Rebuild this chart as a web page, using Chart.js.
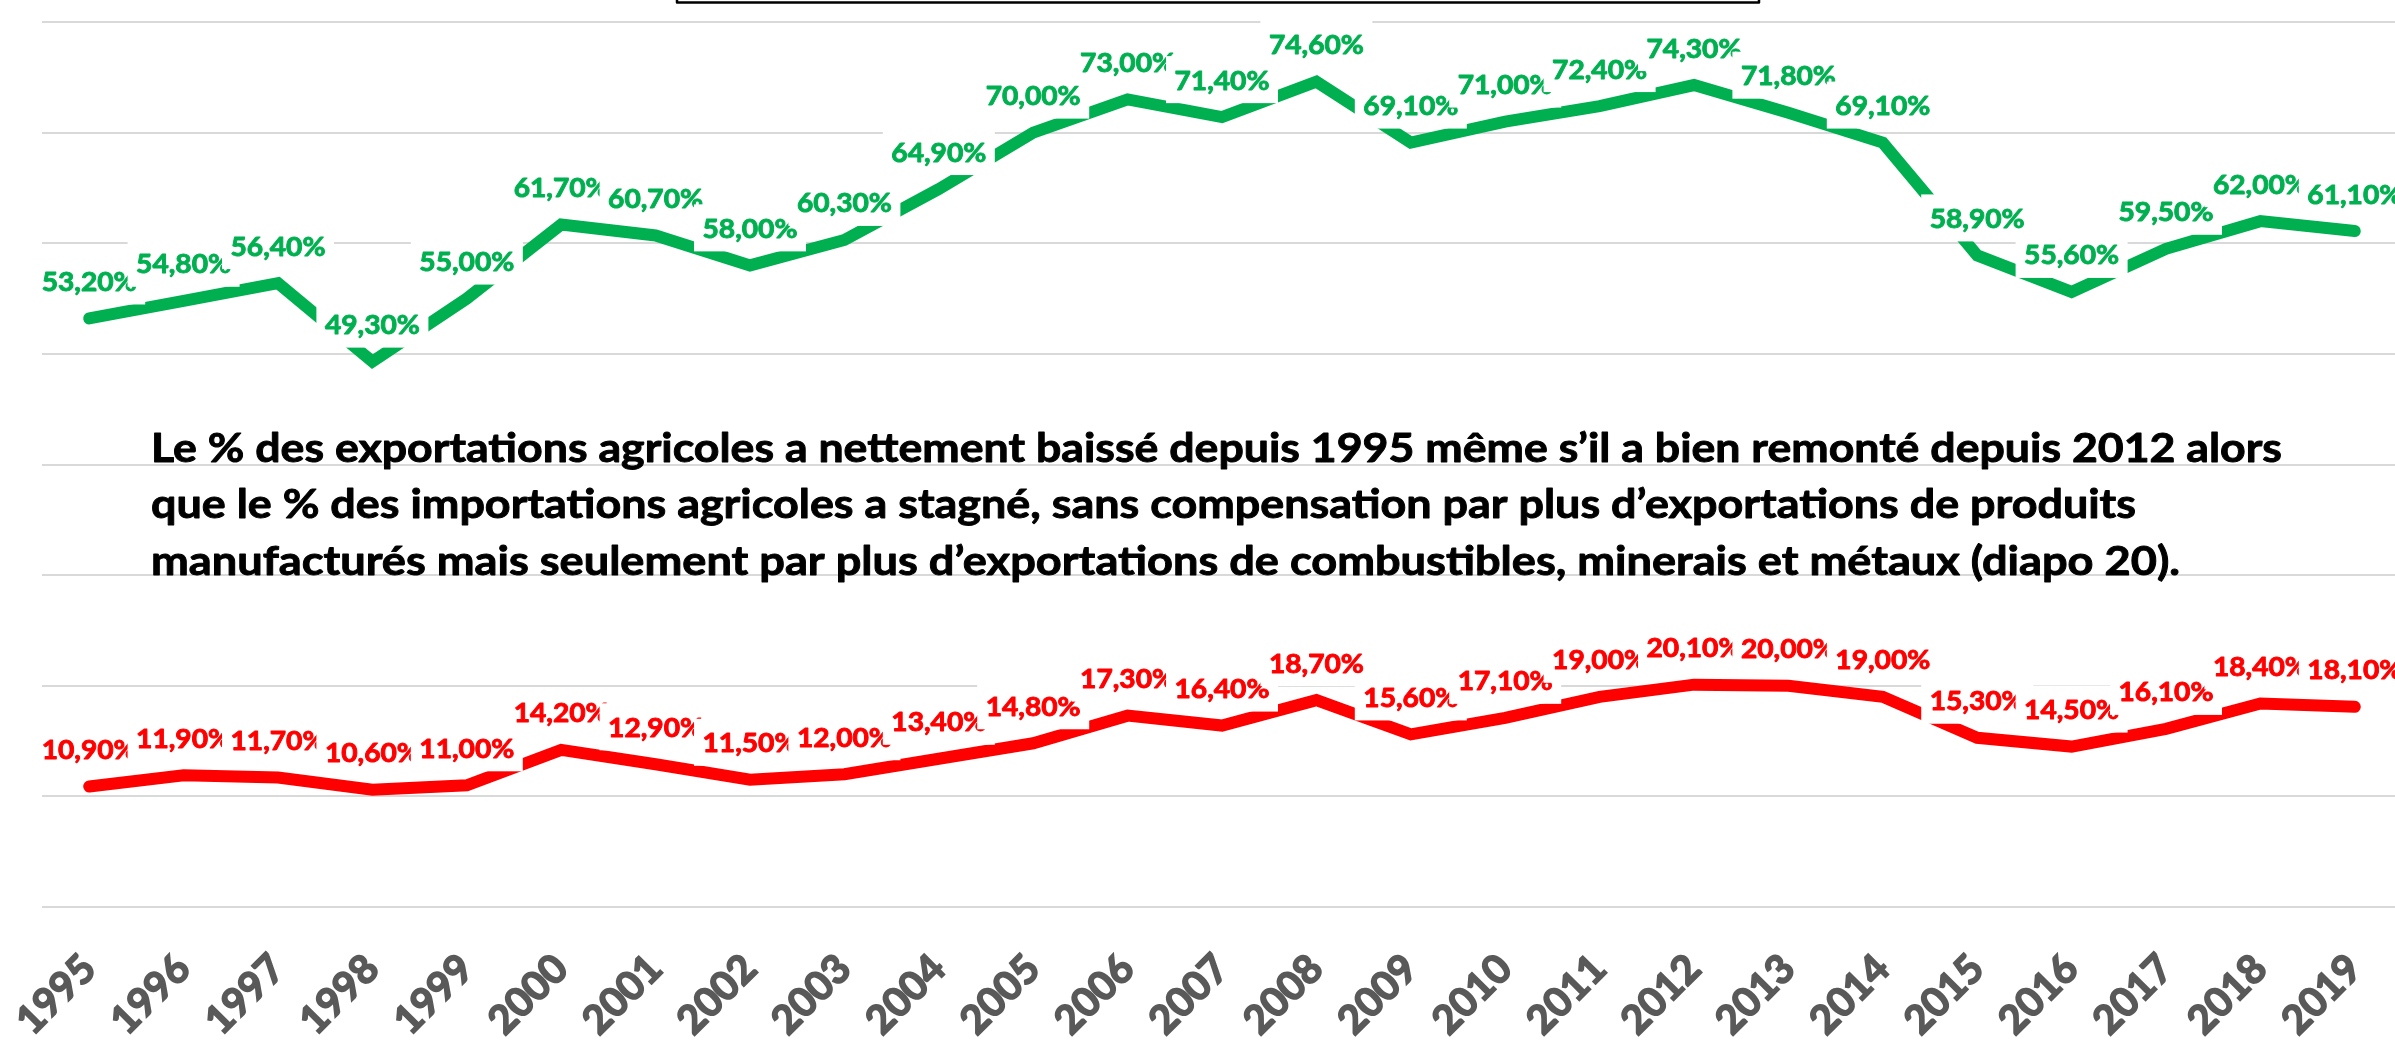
<!DOCTYPE html>
<html><head><meta charset="utf-8">
<script src="https://cdn.jsdelivr.net/npm/chart.js@4.4.1/dist/chart.umd.min.js"></script>
<style>html,body{margin:0;padding:0;background:#fff;overflow:hidden}#wrap{width:2402px;height:1053px}</style>
</head><body><div id="wrap"><canvas id="c" width="2402" height="1053"></canvas></div>
<script>
const years = ['1995','1996','1997','1998','1999','2000','2001','2002','2003','2004','2005','2006','2007','2008','2009','2010','2011','2012','2013','2014','2015','2016','2017','2018','2019'];
const exportsAgri = [53.2,54.8,56.4,49.3,55.0,61.7,60.7,58.0,60.3,64.9,70.0,73.0,71.4,74.6,69.1,71.0,72.4,74.3,71.8,69.1,58.9,55.6,59.5,62.0,61.1];
const importsAgri = [10.9,11.9,11.7,10.6,11.0,14.2,12.9,11.5,12.0,13.4,14.8,17.3,16.4,18.7,15.6,17.1,19.0,20.1,20.0,19.0,15.3,14.5,16.1,18.4,18.1];
const yMin = 0, yMax = 80, yStep = 10;
const noteLines = [
  'Le % des exportations agricoles a nettement baissé depuis 1995 même s’il a bien remonté depuis 2012 alors',
  'que le % des importations agricoles a stagné, sans compensation par plus d’exportations de produits',
  'manufacturés mais seulement par plus d’exportations de combustibles, minerais et métaux (diapo 20).'
];
const noteWidths = [2131, 1985, 2029];

const GREEN = '#00B050', RED = '#FF0000';
const fmt = v => v.toFixed(2).replace('.', ',') + '%';

const labelPlugin = {
  id: 'valueLabels',
  afterDatasetsDraw(chart) {
    const ctx = chart.ctx;
    ctx.save();
    ctx.font = 'bold 26px Lato';
    const sx = 95 / ctx.measureText('71,40%').width;
    chart.data.datasets.forEach((ds, di) => {
      const meta = chart.getDatasetMeta(di);
      meta.data.forEach((pt, i) => {
        const x = pt.x, y = pt.y;
        ctx.fillStyle = '#fff';
        ctx.fillRect(x - 56, y - 61, 112, 47);
        ctx.save();
        ctx.translate(x, y - 27.5);
        ctx.scale(sx, 1);
        ctx.fillStyle = ds.borderColor;
        ctx.strokeStyle = ds.borderColor;
        ctx.lineWidth = 0.9;
        ctx.lineJoin = 'round';
        ctx.textAlign = 'center';
        ctx.textBaseline = 'alphabetic';
        const t = fmt(ds.data[i]);
        ctx.fillText(t, 0, 0);
        ctx.strokeText(t, 0, 0);
        ctx.restore();
      });
    });
    ctx.restore();
  },
  afterDraw(chart) {
    const ctx = chart.ctx;
    ctx.save();
    ctx.font = 'bold 40px Lato';
    ctx.fillStyle = '#000';
    ctx.strokeStyle = '#000';
    ctx.lineWidth = 0.9;
    ctx.lineJoin = 'round';
    ctx.textAlign = 'left';
    ctx.textBaseline = 'alphabetic';
    const baselines = [462, 518, 575];
    noteLines.forEach((t, i) => {
      const sx = noteWidths[i] / ctx.measureText(t).width;
      ctx.save();
      ctx.translate(151, baselines[i]);
      ctx.scale(sx, 1);
      ctx.fillText(t, 0, 0);
      ctx.strokeText(t, 0, 0);
      ctx.restore();
    });
    ctx.strokeStyle = '#000';
    ctx.lineWidth = 2.5;
    ctx.strokeRect(677, -40, 1082, 42.5);
    ctx.restore();
  }
};

new Chart(document.getElementById('c'), {
  type: 'line',
  data: {
    labels: years,
    datasets: [
      { data: exportsAgri, borderColor: GREEN, backgroundColor: GREEN, borderWidth: 12, pointRadius: 0, tension: 0, borderCapStyle: 'round', borderJoinStyle: 'miter', fill: false },
      { data: importsAgri, borderColor: RED, backgroundColor: RED, borderWidth: 12, pointRadius: 0, tension: 0, borderCapStyle: 'round', borderJoinStyle: 'miter', fill: false }
    ]
  },
  options: {
    responsive: false,
    animation: false,
    devicePixelRatio: 1,
    layout: { padding: { left: 42, right: 0, top: 22, bottom: 0 } },
    plugins: { legend: { display: false }, tooltip: { enabled: false }, title: { display: false } },
    scales: {
      x: {
        offset: true,
        grid: { display: false, drawTicks: false },
        border: { display: false },
        ticks: { color: '#595959', textStrokeColor: '#595959', textStrokeWidth: 1.6, font: { family: 'Lato', weight: 'bold', size: 40 }, minRotation: 45, maxRotation: 45, autoSkip: false, padding: 38 },
        afterFit(s) { s.height = 146; s.paddingLeft = 0; s.paddingRight = 0; }
      },
      y: {
        min: yMin, max: yMax,
        ticks: { display: false, stepSize: yStep },
        grid: { color: '#D9D9D9', lineWidth: 2, drawTicks: false },
        border: { display: false },
        afterFit(s) { s.width = 0; s.paddingTop = 0; s.paddingBottom = 0; }
      }
    }
  },
  plugins: [labelPlugin]
});
</script>
</body></html>
